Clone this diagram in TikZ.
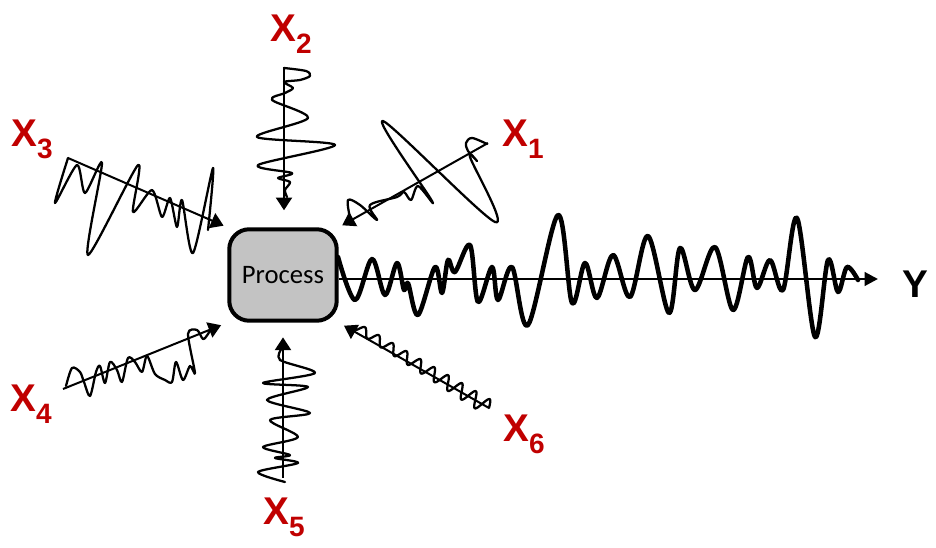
\documentclass[tikz,border=0pt]{standalone}
\usepackage{fontspec}
\setmainfont{Liberation Sans}
\newfontfamily\procfont{Carlito}
\usetikzlibrary{arrows.meta}
\definecolor{xred}{HTML}{C00000}
\definecolor{boxgray}{HTML}{C3C3C3}
\newcommand\xlab[1]{X\raisebox{-8.5pt}{\fontsize{21}{21}\selectfont #1}}
\begin{document}
\begin{tikzpicture}[x=0.75pt,y=-0.75pt,
  procbox/.style={draw, line width=3pt, fill=boxgray, rounded corners=15pt,
    minimum width=80.6pt, minimum height=68.6pt, inner sep=0pt,
    font=\procfont\fontsize{20}{20}\selectfont},
  inarrow/.style={line width=1.5pt, -{Triangle[length=9.5pt,width=12pt]}},
  yarrow/.style={line width=2.2pt, -{Triangle[length=10pt,width=10pt]}},
  thinwave/.style={line width=1.7pt, line join=round, line cap=round},
  thickwave/.style={line width=3.4pt, line join=round, line cap=round},
  xlabel/.style={anchor=base west, inner sep=0pt, text=xred,
    font=\bfseries\fontsize{29}{30}\selectfont},
  ylabel/.style={anchor=base west, inner sep=0pt, text=black,
    font=\bfseries\fontsize{29}{30}\selectfont}]
\useasboundingbox (0,0) rectangle (936,548);

% process box
\node[procbox] (proc) at (283,275) {Process};

% arrow start / end points
\coordinate (x1s) at (488,143);
\coordinate (x2s) at (284,67);
\coordinate (x3s) at (68,158);
\coordinate (x4s) at (63,389);
\coordinate (x5s) at (283,478);
\coordinate (x6s) at (489,408);
\coordinate (yend) at (878,279);

% waves
\draw[thinwave] plot[smooth, tension=0.55] coordinates {
  (487,144) (472,138) (466,143) (468,151) (477,161) (470,157) (495,222)
  (383,121) (432,201) (418,186) (411,200) (404,192) (397,197)
  (370,205) (377,220) (360,205) (348,200) (350,218)};
\draw[thinwave] plot[smooth, tension=0.5] coordinates {
  (284,68) (306,71) (310,76) (300,80) (284,82) (293,88) (285,93)
  (272,100) (308,118) (257,137) (335,145) (258,165) (292,173)
  (278,178) (290,182) (285,190) (287,197)};
\draw[thinwave] plot[smooth, tension=0.45] coordinates {
  (68,158) (55,203) (77,165) (85,193) (102,163) (88,255) (138,165)
  (133,212) (152,190) (162,217) (170,198) (177,227) (182,200)
  (193,253) (213,168) (208,230)};
\draw[thinwave] plot[smooth, tension=0.5] coordinates {
  (66,386) (72,368) (80,372) (84,382) (90,396) (96,372) (100,366)
  (105,383) (110,362) (117,370) (122,382) (128,358) (135,362)
  (142,372) (147,356) (155,374) (165,380) (172,382) (176,362)
  (183,380) (190,366) (195,373) (188,334) (197,330) (203,339)
  (208,334) (213,325)};
\draw[thinwave] plot[smooth, tension=0.5] coordinates {
  (285,482) (258,472) (298,463) (275,458) (290,455) (263,447)
  (298,437) (270,420) (310,413) (267,400) (308,387) (263,383)
  (315,373) (280,360) (282,348)};
\draw[thinwave] plot[domain=0:154, samples=220, smooth]
  ({489-0.853*\x+0.522*(8-4*\x/154)*sin(22.5*\x)},
   {408-0.522*\x-0.853*(8-4*\x/154)*sin(22.5*\x)});
\draw[thickwave] plot[smooth, tension=0.55] coordinates {
  (338,257) (355,300) (372,259) (385,295) (397,263) (404,290) (408,283)
  (418,315) (435,267) (442,293) (448,260) (455,272) (470,245) (478,302)
  (492,267) (498,300) (512,267) (528,325) (558,215) (572,303) (585,263)
  (597,298) (613,255) (630,297) (648,236) (669,313) (680,248) (695,290)
  (715,247) (733,310) (748,257) (757,288) (770,260) (783,290) (797,218)
  (815,337) (828,260) (838,292) (847,267) (858,280)};

% arrows
\draw[inarrow, shorten >=3pt] (x1s) -- (proc.north east);
\draw[inarrow, shorten >=12.75pt] (x2s) -- (x2s |- proc.north);
\draw[inarrow, shorten >=3pt] (x3s) -- (proc.north west);
\draw[inarrow, shorten >=5pt] (x4s) -- (proc.south west);
\draw[inarrow, shorten >=11pt] (x5s) -- (proc.south);
\draw[inarrow, shorten >=4.5pt] (x6s) -- (proc.south east);
\draw[yarrow] (proc.east |- yend) -- (yend);

% labels
\node[xlabel] (l1) at (502,147) {\xlab{1}};
\node[xlabel] (l2) at (270,42) {\xlab{2}};
\node[xlabel] (l3) at (11,147) {\xlab{3}};
\node[xlabel] (l4) at (10,412) {\xlab{4}};
\node[xlabel] (l5) at (263,525) {\xlab{5}};
\node[xlabel] (l6) at (503,442) {\xlab{6}};
\node[ylabel] (ly) at (902,298) {Y};
\end{tikzpicture}
\end{document}
